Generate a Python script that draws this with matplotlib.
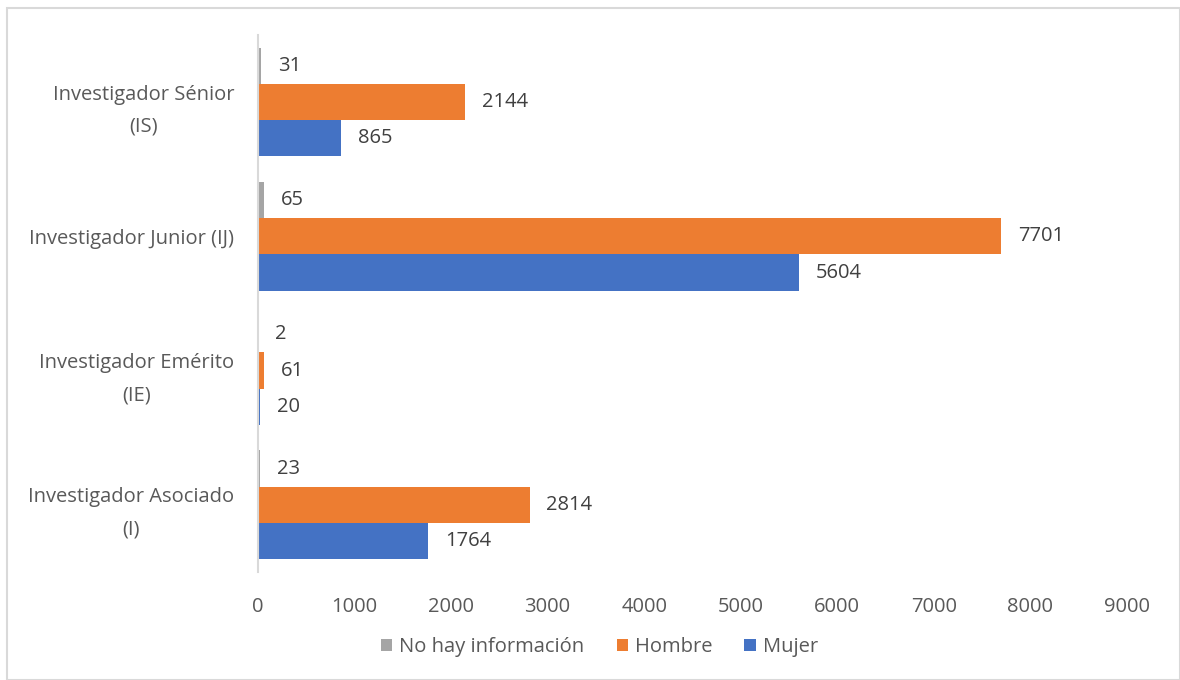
import numpy as np
import matplotlib.pyplot as plt
from matplotlib.patches import Rectangle

categories = ['Investigador Asociado\n(I)', 'Investigador Emérito\n(IE)',
              'Investigador Junior (IJ)', 'Investigador Sénior\n(IS)']
series_names = ['No hay información', 'Hombre', 'Mujer']
no_info = [23, 2, 65, 31]
hombre = [2814, 61, 7701, 2144]
mujer = [1764, 20, 5604, 865]
colors = ['#a5a5a5', '#ed7d31', '#4472c4']

plt.rcParams['font.family'] = ['Open Sans', 'DejaVu Sans']
fs = 14.5

fig = plt.figure(figsize=(11.8, 6.8), dpi=100)
ax = fig.add_axes([0.2186, 0.159, 0.7364, 0.7897])

y = np.arange(len(categories))
h = 0.27
offsets = [h, 0, -h]
for vals, name, col, off in zip([no_info, hombre, mujer], series_names, colors, offsets):
    bars = ax.barh(y + off, vals, height=h, color=col, label=name)
    for b, v in zip(bars, vals):
        ax.annotate(str(v), (v, b.get_y() + b.get_height() / 2),
                    xytext=(12, 0), textcoords='offset points',
                    va='center', ha='left', fontsize=fs, color='#404040')

ax.set_xlim(0, 9000)
ax.set_ylim(-0.5, 3.5)
ax.set_xticks(np.arange(0, 9001, 1000))
ax.set_yticks(y)
ax.set_yticklabels(categories, fontsize=fs, color='#595959', linespacing=1.8,
                   multialignment='center')
ax.tick_params(axis='x', labelsize=fs, labelcolor='#595959', length=0, pad=18)
ax.tick_params(axis='y', length=0, pad=17)
for s in ['top', 'right', 'bottom']:
    ax.spines[s].set_visible(False)
ax.spines['left'].set_color('#d9d9d9')
ax.spines['left'].set_linewidth(1.5)

handles, labels = ax.get_legend_handles_labels()
fig.legend(handles, labels, loc='center', bbox_to_anchor=(0.508, 0.048), ncol=3,
           frameon=False, fontsize=fs, handlelength=0.55, handleheight=0.55,
           handletextpad=0.35, columnspacing=1.6, labelcolor='#595959')

fig.patches.append(Rectangle((0.006, 0.0), 0.994, 0.988, transform=fig.transFigure,
                             fill=False, edgecolor='#d9d9d9', linewidth=1.5))

fig.savefig('out.png', dpi=100)
